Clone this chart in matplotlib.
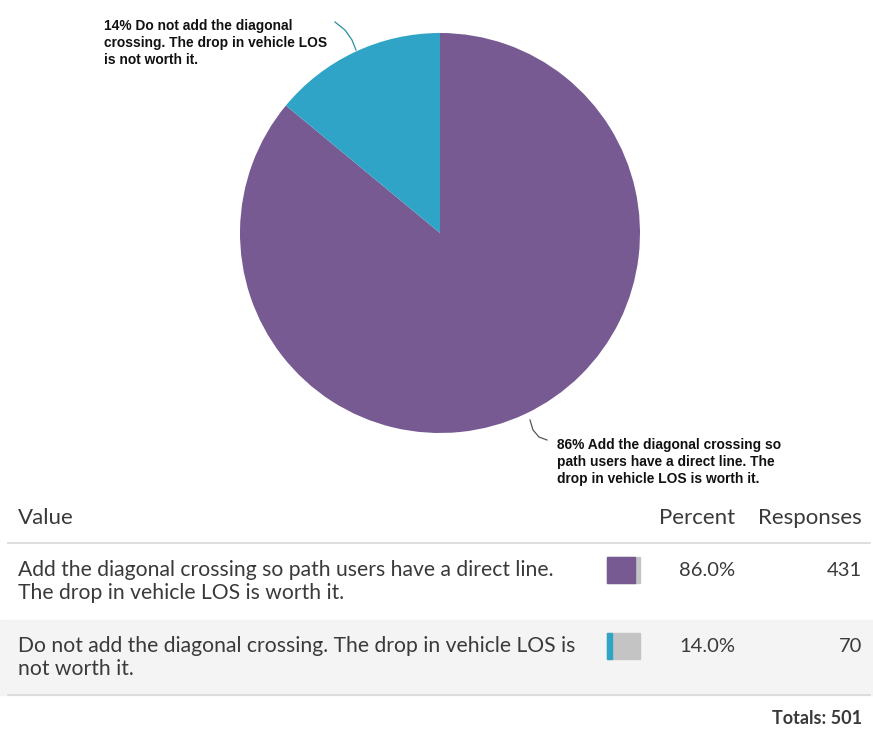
import matplotlib.pyplot as plt
from matplotlib.patches import Rectangle

# data
labels = [
    "Add the diagonal crossing so path users have a direct line.\nThe drop in vehicle LOS is worth it.",
    "Do not add the diagonal crossing. The drop in vehicle LOS is\nnot worth it.",
]
pie_labels = [
    "86% Add the diagonal crossing so\npath users have a direct line. The\ndrop in vehicle LOS is worth it.",
    "14% Do not add the diagonal\ncrossing. The drop in vehicle LOS\nis not worth it.",
]
percents = [86.0, 14.0]
responses = [431, 70]
colors = ["#785a92", "#2fa4c6"]

W, H = 873, 729
fig = plt.figure(figsize=(W / 100, H / 100), dpi=100)


def fx(x):
    return x / W


def fy(y):
    return 1 - y / H


# pie
ax = fig.add_axes([fx(240), fy(433), 400 / W, 400 / H])
ax.pie(percents, colors=colors, startangle=90, counterclock=False,
       wedgeprops=dict(linewidth=0))
ax.set_xlim(-1, 1)
ax.set_ylim(-1, 1)
ax.set_aspect("equal")

lab_font = dict(family="Liberation Sans", fontweight="bold", fontsize=9.9,
                color="#111111", linespacing=1.25)
fig.text(fx(104), fy(19), pie_labels[1], va="top", ha="left", **lab_font)
fig.text(fx(557), fy(438), pie_labels[0], va="top", ha="left", **lab_font)

# leader lines
fig.lines.append(plt.Line2D([fx(335), fx(345), fx(352), fx(356)],
                            [fy(22), fy(30), fy(40), fy(50)],
                            transform=fig.transFigure, color="#2a8f9e", lw=0.9))
fig.lines.append(plt.Line2D([fx(530), fx(533), fx(539), fx(547)],
                            [fy(420), fy(430), fy(437), fy(440)],
                            transform=fig.transFigure, color="#555555", lw=0.9))

# table
tf = dict(family="Lato", color="#3a3a3a")
fig.text(fx(18), fy(518), "Value", fontsize=16, va="center", ha="left", **tf)
fig.text(fx(735), fy(518), "Percent", fontsize=16, va="center", ha="right", **tf)
fig.text(fx(862), fy(518), "Responses", fontsize=16, va="center", ha="right", **tf)

fig.add_artist(Rectangle((fx(0), fy(695)), fx(873), 75 / H,
                         transform=fig.transFigure, color="#f4f4f4", zorder=0))
for y in [543, 695]:
    fig.lines.append(plt.Line2D([fx(8), fx(870)], [fy(y), fy(y)],
                                transform=fig.transFigure, color="#d8d8d8", lw=1.2))

row_y = [570, 646]
for i in range(2):
    y = row_y[i]
    for k, line in enumerate(labels[i].split("\n")):
        fig.text(fx(18), fy(y + 23 * k), line, fontsize=15.2, va="center",
                 ha="left", **tf)
    fig.text(fx(735), fy(y), f"{percents[i]:.1f}%", fontsize=14.5,
             va="center", ha="right", **tf)
    fig.text(fx(862), fy(y), str(responses[i]), fontsize=14.5,
             va="center", ha="right", **tf)
    # mini bar
    bw = 33
    fig.add_artist(Rectangle((fx(607), fy(y + 13)), bw / W, 26 / H,
                             transform=fig.transFigure, color="#c4c4c4"))
    fig.add_artist(Rectangle((fx(607), fy(y + 13)), bw * percents[i] / 100 / W, 26 / H,
                             transform=fig.transFigure, color=colors[i]))

fig.text(fx(862), fy(718), "Totals: 501", fontsize=13, fontweight="bold",
         va="center", ha="right", **tf)

fig.savefig("out.png", dpi=100)
